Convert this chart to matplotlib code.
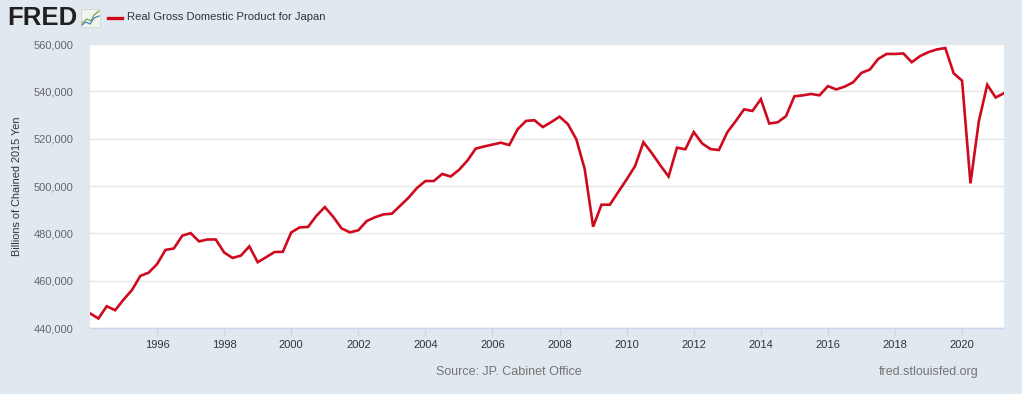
import matplotlib
matplotlib.use("Agg")
import matplotlib.pyplot as plt
from matplotlib.ticker import FuncFormatter, FixedLocator
from matplotlib.lines import Line2D
from matplotlib.patches import Rectangle

# Quarterly real GDP for Japan, 1994Q1 .. 2021Q2 (billions of chained 2015 yen)
start_year = 1994
gdp = [
    446200, 444000, 449200, 447500, 452000, 456000, 462000, 463400,
    467000, 473000, 473600, 479000, 480100, 476600, 477400, 477400,
    471900, 469600, 470600, 474500, 467800, 469900, 472100, 472200,
    480400, 482500, 482700, 487400, 491100, 487000, 482100, 480400,
    481300, 485200, 486800, 488000, 488300, 491700, 495100, 499200,
    502100, 502100, 505100, 504000, 506800, 510700, 515800, 516700,
    517500, 518300, 517300, 524000, 527500, 527800, 524900, 527000,
    529300, 526100, 519700, 507100, 482800, 492100, 492100, 497500,
    502800, 508400, 518500, 513900, 508800, 504000, 516200, 515500,
    522800, 518000, 515600, 515200, 522700, 527400, 532400, 531700,
    536700, 526400, 526900, 529500, 537900, 538300, 538900, 538300,
    542200, 540800, 542000, 543800, 547800, 549200, 553700, 555800,
    555800, 556000, 552300, 554900, 556600, 557700, 558300, 547600,
    544500, 501100, 527400, 542800, 537400, 539200,
]
x_years = [start_year + i / 4 for i in range(len(gdp))]

y_ticks = [440000, 460000, 480000, 500000, 520000, 540000, 560000]
x_ticks = [1996, 1998, 2000, 2002, 2004, 2006, 2008, 2010, 2012, 2014, 2016, 2018, 2020]

title = "Real Gross Domestic Product for Japan"
y_label = "Billions of Chained 2015 Yen"
source = "Source: JP. Cabinet Office"
site = "fred.stlouisfed.org"

BG = "#e1e9f0"
RED = "#cf0a1f"
FONT = "Liberation Sans"

W, H = 1022, 394
fig = plt.figure(figsize=(W / 100, H / 100), dpi=100, facecolor=BG)
L, R, T, B = 90, 1004, 44, 328
ax = fig.add_axes([L / W, 1 - B / H, (R - L) / W, (B - T) / H])
ax.set_facecolor("white")

ax.plot(x_years, gdp, color=RED, lw=1.9, solid_joinstyle="miter", zorder=3)

ax.set_xlim(start_year, start_year + (len(gdp) - 1) / 4)
ax.set_ylim(440000, 560000)
ax.yaxis.set_major_locator(FixedLocator(y_ticks))
ax.xaxis.set_major_locator(FixedLocator(x_ticks))
ax.yaxis.set_major_formatter(FuncFormatter(lambda v, p: f"{int(v):,}"))
ax.xaxis.set_major_formatter(FuncFormatter(lambda v, p: f"{int(v)}"))

for s in ["top", "left", "right"]:
    ax.spines[s].set_visible(False)
ax.spines["bottom"].set_color("#ccd6eb")
ax.spines["bottom"].set_linewidth(1.0)

ax.grid(axis="y", color="#e6e6e6", lw=1.0, zorder=0)
ax.set_axisbelow(True)

ax.tick_params(axis="y", length=0, pad=12, labelsize=8, labelcolor="#666666")
ax.tick_params(axis="x", length=6, width=1, color="#ccd6eb", pad=3,
               labelsize=8, labelcolor="#333333")
for lab in ax.get_xticklabels() + ax.get_yticklabels():
    lab.set_fontfamily(FONT)

fig.text(17 / W, 1 - 186 / H, y_label, rotation=90, ha="center", va="center",
         fontsize=7.8, color="#333333", family=FONT)

# Header
fig.text(7 / W, 1 - 18 / H, "FRED", fontsize=18.5, fontweight="bold",
         color="#231f20", family=FONT, ha="left", va="center")
icon = Rectangle((81 / W, 1 - 27 / H), 19 / W, 18 / H, transform=fig.transFigure,
                 facecolor="#f2f2ee", edgecolor="#d6d6d0", lw=0.6)
fig.patches.append(icon)
fig.lines.append(Line2D([82 / W, 87 / W, 91 / W, 94 / W, 99 / W],
                        [1 - 23 / H, 1 - 19 / H, 1 - 21 / H, 1 - 15 / H, 1 - 11 / H],
                        transform=fig.transFigure, color="#6aa84f", lw=0.9))
fig.lines.append(Line2D([82 / W, 86 / W, 90 / W, 94 / W, 99 / W],
                        [1 - 25 / H, 1 - 22 / H, 1 - 24 / H, 1 - 18 / H, 1 - 16 / H],
                        transform=fig.transFigure, color="#4a7fb5", lw=0.9))
fig.lines.append(Line2D([108 / W, 122 / W], [1 - 17.5 / H, 1 - 17.5 / H],
                        transform=fig.transFigure, color=RED, lw=2.4))
fig.text(127 / W, 1 - 17.5 / H, title, fontsize=8.1, color="#333333",
         family=FONT, ha="left", va="center")

# Footer
fig.text(436 / W, 1 - 372 / H, source, fontsize=9, color="#737373",
         family=FONT, ha="left", va="center")
fig.text(979 / W, 1 - 372 / H, site, fontsize=9, color="#737373",
         family=FONT, ha="right", va="center")

fig.savefig("out.png", dpi=100, facecolor=BG)
